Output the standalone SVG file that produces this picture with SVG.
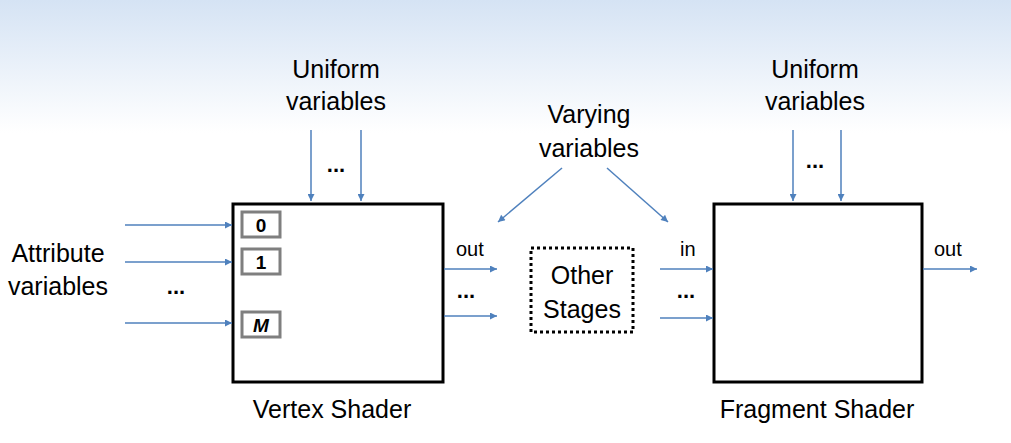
<svg xmlns="http://www.w3.org/2000/svg" width="1011" height="443" viewBox="0 0 1011 443">
<defs>
<linearGradient id="bg" x1="0" y1="0" x2="0" y2="1">
<stop offset="0" stop-color="#d5e3f4"/>
<stop offset="0.3" stop-color="#ffffff"/>
<stop offset="1" stop-color="#ffffff"/>
</linearGradient>
<marker id="ah" viewBox="0 0 10 10" refX="10" refY="5" markerWidth="9" markerHeight="7" markerUnits="userSpaceOnUse" orient="auto">
<path d="M0,0 L10,5 L0,10 z" fill="#4f81bd"/>
</marker>
<style>
text{font-family:"Liberation Sans",Arial,sans-serif;fill:#000}
.t{font-size:25px;text-anchor:middle}
.s{font-size:20px}
.d{font-size:22px;font-weight:bold;text-anchor:middle}
.c{stroke:#4f81bd;stroke-width:1.5;fill:none;marker-end:url(#ah)}
.box{fill:#fff;stroke:#000;stroke-width:3}
.slot{fill:#fff;stroke:#7f7f7f;stroke-width:3}
.sl{font-size:19px;font-weight:bold;text-anchor:middle}
</style>
</defs>
<rect width="1011" height="443" fill="url(#bg)"/>
<g id="vertex-shader">
<rect class="box" x="233" y="204" width="210" height="178"/>
<rect class="slot" x="242" y="212" width="38" height="25"/>
<text class="sl" x="261" y="232">0</text>
<rect class="slot" x="242" y="249" width="38" height="25"/>
<text class="sl" x="261" y="269">1</text>
<rect class="slot" x="242" y="312" width="38" height="25"/>
<text class="sl" x="261" y="332" font-style="italic">M</text>
<text class="t" x="332" y="418">Vertex Shader</text>
</g>
<g id="fragment-shader">
<rect class="box" x="714" y="204" width="208" height="178"/>
<text class="t" x="817" y="418">Fragment Shader</text>
</g>
<g id="other-stages">
<rect x="531" y="248" width="102" height="84" fill="#fff" stroke="#000" stroke-width="3" stroke-dasharray="3,3"/>
<text class="t" x="582" y="284">Other</text>
<text class="t" x="582" y="318">Stages</text>
</g>
<g id="uniform-left">
<text class="t" x="336" y="78">Uniform</text>
<text class="t" x="336" y="110">variables</text>
</g>
<g id="uniform-right">
<text class="t" x="815" y="78">Uniform</text>
<text class="t" x="815" y="110">variables</text>
</g>
<g id="varying">
<text class="t" x="589" y="123">Varying</text>
<text class="t" x="589" y="157">variables</text>
</g>
<g id="attribute">
<text class="t" x="58" y="262">Attribute</text>
<text class="t" x="58" y="295">variables</text>
</g>
<g id="connectors">
<line class="c" x1="311" y1="130" x2="311" y2="201"/>
<line class="c" x1="361" y1="130" x2="361" y2="201"/>
<line class="c" x1="793" y1="130" x2="793" y2="201"/>
<line class="c" x1="841" y1="130" x2="841" y2="201"/>
<line class="c" x1="562" y1="168" x2="498" y2="222"/>
<line class="c" x1="607" y1="168" x2="668" y2="222"/>
<line class="c" x1="125" y1="225" x2="232" y2="225"/>
<line class="c" x1="125" y1="262" x2="232" y2="262"/>
<line class="c" x1="125" y1="323" x2="232" y2="323"/>
<line class="c" x1="444" y1="269" x2="497" y2="269"/>
<line class="c" x1="444" y1="316" x2="497" y2="316"/>
<line class="c" x1="660" y1="269" x2="713" y2="269"/>
<line class="c" x1="660" y1="318" x2="713" y2="318"/>
<line class="c" x1="923" y1="269" x2="977" y2="269"/>
<text class="d" x="336" y="172">...</text>
<text class="d" x="815" y="168">...</text>
<text class="d" x="176" y="294">...</text>
<text class="d" x="466" y="298">...</text>
<text class="d" x="686" y="298">...</text>
<text class="s" x="456" y="256">out</text>
<text class="s" x="680" y="256">in</text>
<text class="s" x="934" y="256">out</text>
</g>
</svg>
